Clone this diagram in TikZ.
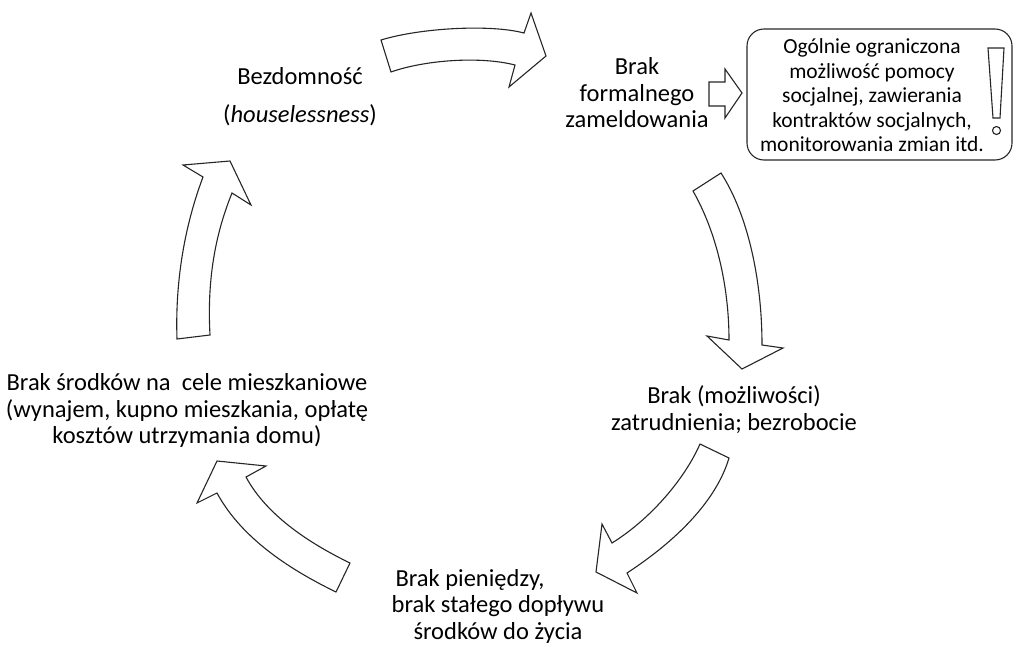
\documentclass[tikz,border=0pt]{standalone}
\usepackage{fontspec}
\setmainfont{Carlito}
\begin{document}
\begin{tikzpicture}[x=1pt,y=-1pt,
  blockarrow/.style={draw=black!85, line width=1.1pt, line join=miter, fill=white},
  label/.style={align=center, inner sep=0pt, text=black,
    font=\fontsize{24.5}{26.5}\selectfont},
  notetext/.style={align=center, inner sep=0pt, text=black,
    font=\fontsize{21.5}{24.5}\selectfont},
  notebox/.style={draw=black!85, line width=1.1pt, rounded corners=17pt,
    minimum width=265pt, minimum height=131pt, inner sep=0pt}]
\useasboundingbox (0,0) rectangle (1014,645);

% stages of the cycle
\node[label] (home) at (300,96.5) {Bezdomność\\[11pt](\textit{houselessness})};
\node[label] (meld) at (637,93) {Brak\\formalnego\\zameldowania};
\node[label] (work) at (734,409.5) {Brak (możliwości)\\zatrudnienia; bezrobocie};
\node[label] (money) at (498,606) {Brak pieniędzy,\hspace*{56pt}\\brak stałego dopływu\\środków do życia};
\node[label] (flat) at (187,410.7) {Brak środków na\ \ cele mieszkaniowe\\(wynajem, kupno mieszkania, opłatę\\kosztów utrzymania domu)};

% consequence box
\node[notebox] (note) at (879.5,94.5) {};
\node[notetext] (notetxt) at (872,95.5) {Ogólnie ograniczona\\możliwość pomocy\\socjalnej, zawierania\\kontraktów socjalnych,\\monitorowania zmian itd.};
\draw[blockarrow] (988,48) -- (1004,48) -- (1000,118) -- (993,118) -- cycle;
\draw[blockarrow] (996.5,130.5) circle (4);

% small arrow towards the box
\draw[blockarrow] (709,82) -- (725,82) -- (725,69) -- (742,93) -- (725,118) -- (725,106) -- (709,106) -- cycle;

% curved arrows of the cycle
\draw[blockarrow] (381,40) .. controls (420,28) and (490,24) .. (524,33)
  -- (531,13) -- (546,56) -- (509,87) -- (515,65)
  .. controls (480,56) and (425,60) .. (391,72) -- cycle;

\draw[blockarrow] (693,191) -- (721,173) .. controls (748,215) and (762,280) .. (762,345)
  -- (783,348) -- (742,369) -- (707,336) -- (729,340)
  .. controls (729,290) and (718,235) .. (693,191) -- cycle;

\draw[blockarrow] (700,444) -- (729,458) .. controls (718,495) and (685,535) .. (627,573)
  -- (637,593) -- (596,572) -- (602,524) -- (612,543)
  .. controls (652,518) and (685,478) .. (700,444) -- cycle;

\draw[blockarrow] (350,563) -- (336,592) .. controls (295,572) and (243,541) .. (217,493)
  -- (197,503) -- (217,461) -- (266,466) -- (246,477)
  .. controls (268,518) and (315,546) .. (350,563) -- cycle;

\draw[blockarrow] (177,339) -- (210,335) .. controls (207,280) and (215,235) .. (232,193)
  -- (251,205) -- (230,161) -- (183,165) -- (203,177)
  .. controls (185,225) and (175,280) .. (177,339) -- cycle;
\end{tikzpicture}
\end{document}
